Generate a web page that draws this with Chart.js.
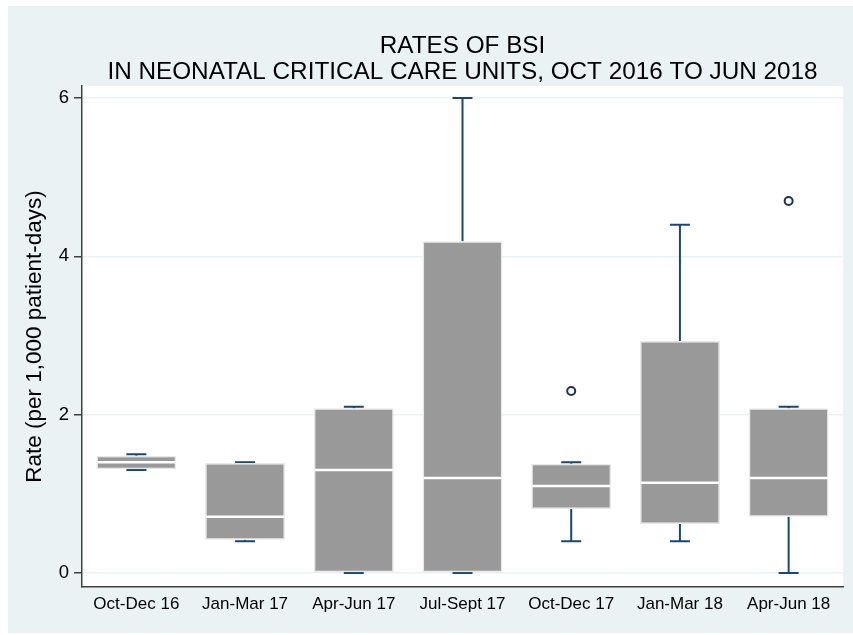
<!DOCTYPE html>
<html>
<head>
<meta charset="utf-8">
<script src="https://cdn.jsdelivr.net/npm/chart.js@4.4.0/dist/chart.umd.min.js"></script>
<style>
  body { margin: 0; background: #fff; }
  #wrap { width: 853px; height: 635px; }
</style>
</head>
<body>
<div id="wrap"><canvas id="boxChart" width="853" height="635"></canvas></div>
<script>
// quarters on the x axis
const categories = ['Oct-Dec 16', 'Jan-Mar 17', 'Apr-Jun 17', 'Jul-Sept 17', 'Oct-Dec 17', 'Jan-Mar 18', 'Apr-Jun 18'];

// box plot stats (rate per 1,000 patient-days)
const lowWhisker  = [1.30, 0.40, 0.00, 0.00, 0.40, 0.40, 0.00];
const q1          = [1.31, 0.42, 0.00, 0.00, 0.81, 0.62, 0.71];
const median      = [1.40, 0.71, 1.30, 1.20, 1.10, 1.14, 1.20];
const q3          = [1.48, 1.39, 2.08, 4.19, 1.38, 2.93, 2.08];
const highWhisker = [1.50, 1.40, 2.10, 6.00, 1.40, 4.40, 2.10];
const outliers    = [null, null, null, null, 2.30, null, 4.70];

const yTicks = [0, 2, 4, 6];

const NAVY = '#1a476f';
const BG = '#eaf2f3';
const FONT = '"Liberation Sans", Arial, sans-serif';

// floating bars need [low, high] pairs
const boxData = q1.map((v, i) => [v, q3[i]]);

// background panels (outer light bluish, plot region white)
const backgroundPlugin = {
    id: 'stataBackground',
    beforeDraw(chart) {
        const { ctx, chartArea } = chart;
        ctx.save();
        ctx.fillStyle = '#fff';
        ctx.fillRect(0, 0, chart.width, chart.height);
        ctx.fillStyle = BG;
        ctx.fillRect(8, 6, chart.width - 8, chart.height - 8);
        ctx.fillStyle = '#fff';
        ctx.fillRect(chartArea.left, chartArea.top, chartArea.right - chartArea.left, chartArea.bottom - chartArea.top);
        ctx.restore();
    }
};

// whiskers go under the boxes, medians on top
const boxPlotPlugin = {
    id: 'boxParts',
    beforeDatasetsDraw(chart) {
        const { ctx, scales: { x, y } } = chart;
        ctx.save();
        ctx.strokeStyle = NAVY;
        ctx.lineWidth = 2;
        categories.forEach((c, i) => {
            const cx = x.getPixelForValue(i);
            const capHalf = 10;
            const segs = [[q3[i], highWhisker[i]], [q1[i], lowWhisker[i]]];
            segs.forEach(([from, to]) => {
                const y0 = y.getPixelForValue(from);
                const y1 = y.getPixelForValue(to);
                ctx.beginPath();
                ctx.moveTo(cx, y0);
                ctx.lineTo(cx, y1);
                ctx.moveTo(cx - capHalf, y1);
                ctx.lineTo(cx + capHalf, y1);
                ctx.stroke();
            });
        });
        ctx.restore();
    },
    afterDatasetsDraw(chart) {
        const { ctx, scales: { y } } = chart;
        const meta = chart.getDatasetMeta(0);
        ctx.save();
        ctx.strokeStyle = '#fff';
        ctx.lineWidth = 2.5;
        meta.data.forEach((bar, i) => {
            const half = bar.width / 2;
            const my = y.getPixelForValue(median[i]);
            ctx.beginPath();
            ctx.moveTo(bar.x - half + 1, my);
            ctx.lineTo(bar.x + half - 1, my);
            ctx.stroke();
        });
        ctx.restore();
    }
};

const ctx = document.getElementById('boxChart').getContext('2d');

new Chart(ctx, {
    type: 'bar',
    data: {
        labels: categories,
        datasets: [
            {
                data: boxData,
                backgroundColor: '#999999',
                borderColor: '#e8e8e8',
                borderWidth: 1.5,
                borderSkipped: false,
                barPercentage: 0.735,
                categoryPercentage: 1.0,
                order: 2
            },
            {
                type: 'line',
                data: outliers,
                showLine: false,
                pointStyle: 'circle',
                pointRadius: 4,
                pointBorderWidth: 2,
                pointBorderColor: '#1f2d5c',
                pointBackgroundColor: 'rgba(0,0,0,0)',
                order: 1
            }
        ]
    },
    options: {
        responsive: false,
        animation: false,
        layout: { padding: { top: 0, right: 10, bottom: 0, left: 0 } },
        plugins: {
            legend: { display: false },
            tooltip: { enabled: false },
            title: {
                display: true,
                fullSize: false,
                text: ['RATES OF BSI', 'IN NEONATAL CRITICAL CARE UNITS, OCT 2016 TO JUN 2018'],
                color: '#000',
                font: { family: FONT, size: 24.3, weight: 'normal', lineHeight: 1.07 },
                padding: { top: 33, bottom: 1 }
            }
        },
        scales: {
            x: {
                offset: true,
                grid: { display: false, drawTicks: false },
                border: { display: true, color: '#404040', width: 1.5 },
                ticks: {
                    color: '#000',
                    padding: 7,
                    maxRotation: 0,
                    autoSkip: false,
                    font: { family: FONT, size: 17 }
                },
                afterFit(scale) { scale.height = 48; }
            },
            y: {
                min: -0.177,
                max: 6.153,
                afterBuildTicks(scale) {
                    scale.ticks = yTicks.map(v => ({ value: v }));
                },
                grid: {
                    color: BG,
                    lineWidth: 1.5,
                    tickColor: '#404040',
                    tickLength: 8
                },
                border: { display: true, color: '#404040', width: 1.5 },
                ticks: {
                    color: '#000',
                    padding: 5,
                    font: { family: FONT, size: 18.5 }
                },
                title: {
                    display: true,
                    text: 'Rate (per 1,000 patient-days)',
                    color: '#000',
                    padding: { top: 21, bottom: 0 },
                    font: { family: FONT, size: 22.5 }
                },
                afterFit(scale) { scale.width = 82; }
            }
        }
    },
    plugins: [backgroundPlugin, boxPlotPlugin]
});
</script>
</body>
</html>
